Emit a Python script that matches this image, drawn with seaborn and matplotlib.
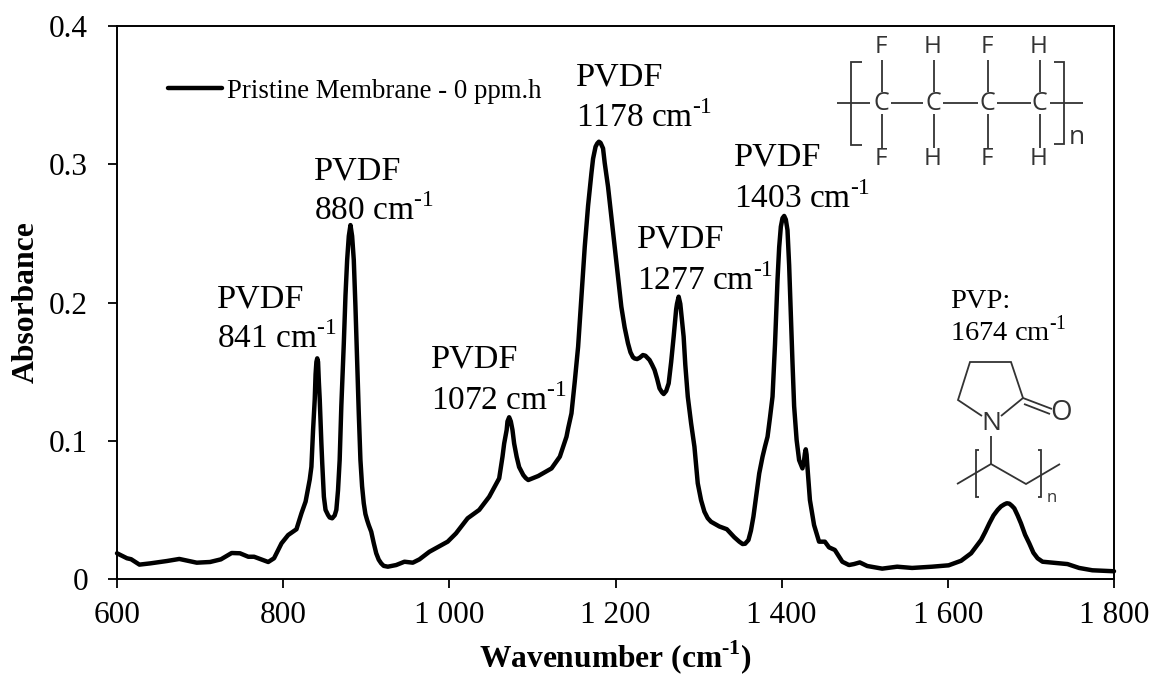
import pandas as pd
import matplotlib.pyplot as plt
import seaborn as sns
from matplotlib.ticker import FuncFormatter

sns.set_style("white")
plt.rcParams["font.family"] = ["Liberation Serif", "DejaVu Serif"]
plt.rcParams["mathtext.fontset"] = "custom"
plt.rcParams["mathtext.rm"] = "Liberation Serif"
plt.rcParams["mathtext.bf"] = "Liberation Serif:bold"
plt.rcParams["text.color"] = "black"
plt.rcParams["axes.labelcolor"] = "black"

# Spectrum
wavenumber = [
    600, 612, 617, 627, 640, 660, 675, 696, 712, 725, 738, 748, 758, 765, 782, 789, 798, 806, 816, 822,
    830, 834, 836, 838, 841, 844, 846, 849, 854, 859, 864, 868, 873, 877, 881, 885, 889, 893, 897, 901,
    906, 912, 918, 926, 936, 946, 956, 964, 976, 998, 1008, 1022, 1036, 1048, 1060, 1064, 1069, 1072, 1076, 1081,
    1089, 1095, 1107, 1123, 1133, 1137, 1141, 1147, 1155, 1163, 1171, 1176, 1180, 1185, 1191, 1199, 1207, 1215, 1221, 1226,
    1233, 1241, 1247, 1253, 1258, 1264, 1270, 1276, 1282, 1287, 1291, 1295, 1299, 1307, 1315, 1334, 1343, 1353, 1360, 1366,
    1373, 1377, 1383, 1389, 1395, 1399, 1403, 1407, 1411, 1415, 1418, 1421, 1425, 1427, 1429, 1431, 1434, 1439, 1445, 1452,
    1457, 1464, 1473, 1481, 1487, 1494, 1503, 1521, 1539, 1557, 1581, 1601, 1616, 1628, 1640, 1650, 1660, 1668, 1674, 1680,
    1688, 1698, 1708, 1714, 1726, 1744, 1758, 1774, 1800,
]
absorbance = [
    0.0186, 0.0150, 0.0143, 0.0104, 0.0113, 0.0130, 0.0145, 0.0118, 0.0123, 0.0142, 0.0188, 0.0186, 0.0161, 0.0161, 0.0123, 0.0150, 0.0258, 0.0318, 0.0360, 0.0475,
    0.0656, 0.0812, 0.1078, 0.1300, 0.1596, 0.1300, 0.0980, 0.0595, 0.0463, 0.0439, 0.0500, 0.0860, 0.1707, 0.2307, 0.2560, 0.2307, 0.1584, 0.0860, 0.0548, 0.0427,
    0.0342, 0.0186, 0.0113, 0.0089, 0.0101, 0.0125, 0.0118, 0.0142, 0.0197, 0.0270, 0.0330, 0.0439, 0.0500, 0.0595, 0.0728, 0.0885, 0.1078, 0.1170, 0.1078, 0.0885,
    0.0752, 0.0716, 0.0745, 0.0800, 0.0885, 0.0957, 0.1029, 0.1198, 0.1680, 0.2404, 0.2934, 0.3127, 0.3163, 0.3115, 0.2838, 0.2404, 0.1970, 0.1705, 0.1604, 0.1591,
    0.1620, 0.1584, 0.1512, 0.1379, 0.1338, 0.1415, 0.1753, 0.2042, 0.1753, 0.1319, 0.1126, 0.0957, 0.0692, 0.0487, 0.0414, 0.0360, 0.0302, 0.0253, 0.0282, 0.0451,
    0.0764, 0.0885, 0.1029, 0.1319, 0.2163, 0.2548, 0.2626, 0.2524, 0.1922, 0.1250, 0.1005, 0.0860, 0.0800, 0.0860, 0.0938, 0.0812, 0.0571, 0.0390, 0.0270, 0.0270,
    0.0229, 0.0210, 0.0125, 0.0101, 0.0108, 0.0120, 0.0094, 0.0075, 0.0089, 0.0080, 0.0089, 0.0099, 0.0132, 0.0186, 0.0282, 0.0403, 0.0500, 0.0540, 0.0545, 0.0511,
    0.0403, 0.0258, 0.0150, 0.0125, 0.0118, 0.0108, 0.0080, 0.0063, 0.0056,
]
# second pass over the peaks and shoulders, where the curve bends fast
wavenumber_fine = [
    827, 832, 839, 840, 842, 843, 845, 847, 851, 856, 862, 866, 870, 875, 879, 883, 887, 891, 895, 899,
    903, 909, 915, 921, 1066, 1070, 1074, 1078, 1084, 1092, 1143, 1151, 1159, 1167, 1173, 1178, 1182, 1187, 1195, 1203,
    1211, 1218, 1223, 1229, 1236, 1244, 1250, 1256, 1261, 1267, 1273, 1274, 1278, 1280, 1284, 1303, 1311, 1325, 1349, 1356,
    1363, 1370, 1380, 1386, 1392, 1397, 1401, 1405, 1409, 1413, 1428, 1430, 1645, 1655, 1664, 1671, 1677, 1684, 1693, 1703,
]
absorbance_fine = [
    0.0560, 0.0720, 0.1480, 0.1570, 0.1570, 0.1420, 0.1130, 0.0840, 0.0500, 0.0445, 0.0460, 0.0640, 0.1250, 0.2050, 0.2480, 0.2480, 0.1970, 0.1200, 0.0670, 0.0470,
    0.0390, 0.0260, 0.0140, 0.0095, 0.0980, 0.1140, 0.1140, 0.0980, 0.0810, 0.0730, 0.1090, 0.1430, 0.2040, 0.2700, 0.3040, 0.3150, 0.3155, 0.3010, 0.2620, 0.2180,
    0.1820, 0.1640, 0.1595, 0.1600, 0.1615, 0.1550, 0.1450, 0.1350, 0.1360, 0.1570, 0.1950, 0.1990, 0.1990, 0.1870, 0.1550, 0.0570, 0.0440, 0.0380, 0.0270, 0.0255,
    0.0350, 0.0630, 0.0960, 0.1170, 0.1700, 0.2400, 0.2610, 0.2600, 0.2270, 0.1570, 0.0910, 0.0900, 0.0340, 0.0460, 0.0525, 0.0548, 0.0530, 0.0460, 0.0320, 0.0190,
]
series_name = "Pristine Membrane - 0 ppm.h"

peak_names = ["PVDF", "PVDF", "PVDF", "PVDF", "PVDF", "PVDF", "PVP:"]
peak_waves = ["841", "880", "1072", "1178", "1277", "1403", "1674"]
x_ticks = [600, 800, 1000, 1200, 1400, 1600, 1800]
y_ticks = [0, 0.1, 0.2, 0.3, 0.4]

W, H = 1153, 675
SUP = "$^{\\mathregular{\u20101}}$"
SUP_B = "$^{\\mathbf{\u20101}}$"

fig = plt.figure(figsize=(W / 100, H / 100), dpi=100)
ax = fig.add_axes([117 / W, 1 - 579 / H, (1114 - 117) / W, (579 - 26) / H])

df = pd.DataFrame({"wavenumber": wavenumber + wavenumber_fine, "absorbance": absorbance + absorbance_fine})
sns.lineplot(data=df, x="wavenumber", y="absorbance", color="black", linewidth=3.2,
             estimator=None, sort=True, label=series_name, ax=ax, clip_on=False, zorder=3)
ax.lines[0].set_solid_joinstyle("round")

ax.set_xlim(600, 1800)
ax.set_ylim(0, 0.4)
ax.set_xticks(x_ticks)
ax.set_yticks(y_ticks)
ax.xaxis.set_major_formatter(FuncFormatter(lambda v, p: f"{int(v):,}".replace(",", " ")))
ax.yaxis.set_major_formatter(FuncFormatter(lambda v, p: "0" if v == 0 else f"{v:.1f}"))
ax.tick_params(axis="both", which="major", direction="out", length=6.7, width=1.3,
               color="black", labelsize=22.5, labelcolor="black", bottom=True, left=True)
ax.tick_params(axis="y", pad=14)
ax.tick_params(axis="x", pad=9)
for side in ax.spines:
    ax.spines[side].set_visible(True)
    ax.spines[side].set_color("black")
    ax.spines[side].set_linewidth(1.4)

ax.set_xlabel("Wavenumber (cm" + SUP_B + ")", fontsize=22.7, fontweight="bold", labelpad=6)
ax.set_ylabel("Absorbance", fontsize=22.8, fontweight="bold", labelpad=6)

ax.legend(loc="upper left", bbox_to_anchor=(0.0512, 0.905), frameon=False, fontsize=19.3,
          handlelength=2.0, handletextpad=0.2, borderpad=0, borderaxespad=0)

# Overlay in image pixels for the peak labels and the two structures
ov = fig.add_axes([0, 0, 1, 1], facecolor="none")
ov.set_xlim(0, W)
ov.set_ylim(H, 0)
ov.axis("off")

label_x = [217, 314, 431, 576, 637, 734]
label_y1 = [307, 180, 367, 86, 248, 166]
label_y2 = [348, 220, 410, 127, 290, 208]
for i in range(6):
    ov.text(label_x[i], label_y1[i], peak_names[i], fontsize=24.6, va="baseline")
    ov.text(label_x[i], label_y2[i], peak_waves[i] + " cm" + SUP, fontsize=24, va="baseline")
ov.text(950, 308, peak_names[6], fontsize=20.5, va="baseline")
ov.text(950, 341, peak_waves[6] + " cm" + SUP, fontsize=20.5, va="baseline")

GREY = "#333333"


def bonds(segments, lw=1.3):
    for seg in segments:
        ov.plot(seg[0], seg[1], color=GREY, lw=lw, solid_capstyle="butt", solid_joinstyle="miter")


# PVDF repeat unit
carbon_x = [881, 933, 987, 1039]
atoms_top = ["F", "H", "F", "H"]
atoms_bot = ["F", "H", "F", "H"]
bonds([
    ([837, 870], [103, 103]), ([891, 923], [103, 103]), ([943, 978], [103, 103]),
    ([997, 1031], [103, 103]), ([1050, 1083], [103, 103]),
    ([862, 851, 851, 862], [62, 62, 145, 145]), ([1054, 1064, 1064, 1054], [62, 62, 144, 144]),
])
for cx, top, bot in zip(carbon_x, atoms_top, atoms_bot):
    ov.text(cx, 103, "C", fontsize=18, family="Open Sans", color=GREY, ha="center", va="center")
    ov.text(cx, 47, top, fontsize=17.5, family="Open Sans", color=GREY, ha="center", va="center")
    ov.text(cx, 159, bot, fontsize=17.5, family="Open Sans", color=GREY, ha="center", va="center")
    bonds([([cx + 1, cx + 1], [60, 92]), ([cx + 1, cx + 1], [114, 148])])
ov.text(1077, 138, "n", fontsize=19, family="Open Sans", color=GREY, ha="center", va="center")

# PVP repeat unit
bonds([
    ([982, 958, 970, 1011, 1023, 1001], [416, 400, 362, 362, 398, 416]),
    ([1023, 1052], [398, 409]), ([1024, 1050], [404, 414]),
    ([991, 991], [436, 464]),
    ([957, 991, 1026, 1060], [484, 464, 484, 464]),
    ([979, 976, 976, 979], [450, 450, 497, 497]), ([1038, 1041, 1041, 1038], [450, 450, 497, 497]),
])
ov.text(991, 424, "N", fontsize=19, family="Open Sans", color=GREY, ha="center", va="center")
ov.text(1061, 413, "O", fontsize=20, family="Open Sans", color=GREY, ha="center", va="center")
ov.text(1052, 498, "n", fontsize=12, family="Open Sans", color=GREY, ha="center", va="center")

fig.savefig("out.png", dpi=100)
